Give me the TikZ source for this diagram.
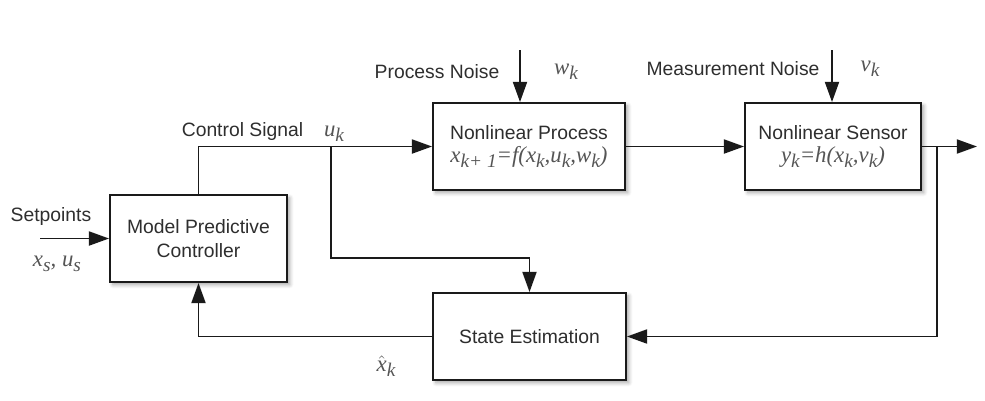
\documentclass[tikz,border=0pt]{standalone}
\usepackage{fontspec}
\setmainfont{Liberation Sans}
\newfontfamily\mfont{Liberation Serif}
\usetikzlibrary{arrows.meta,shadows.blur}
\definecolor{ln}{HTML}{1A1A1A}
\definecolor{tx}{HTML}{2E2E2E}
\definecolor{fm}{HTML}{555555}
\newcommand{\mv}[2]{#1\raisebox{-0.5ex}{\fontsize{11}{11}\selectfont #2}}
\newcommand{\mth}[1]{{\mfont\itshape\color{fm}\fontsize{13}{14}\selectfont #1}}
\begin{document}
\begin{tikzpicture}[x=0.02cm,y=-0.02cm,
  font=\fontsize{11}{13.2}\selectfont,
  box/.style={draw=ln,line width=1.1pt,fill=white,text=tx,align=center,
    minimum height=1.74cm,inner sep=0pt,
    blur shadow={shadow blur steps=6,shadow xshift=1.6pt,shadow yshift=-1.6pt,shadow opacity=35}},
  arr/.style={draw=ln,line width=1.1pt,-{Triangle[length=11.5pt,width=8pt]}},
  lbl/.style={text=tx,inner sep=0pt},
  mlbl/.style={inner sep=0pt}]
\useasboundingbox (0,0) rectangle (985,400);

\node[box,minimum width=3.54cm] (mpc) at (198.5,238.5) {Model Predictive\\Controller};
\node[box,minimum width=3.84cm] (proc) at (529,146.5) {Nonlinear Process\\[0pt]\mth{\mv{x}{k+ 1}=f(\mv{x}{k},\mv{u}{k},\mv{w}{k})}};
\node[box,minimum width=3.52cm] (sens) at (833,146.5) {Nonlinear Sensor\\[0pt]\mth{\mv{y}{k}=h(\mv{x}{k},\mv{v}{k})}};
\node[box,minimum width=3.86cm] (est) at (529.5,336.5) {State Estimation};

\coordinate (sp) at (40,238.5);
\coordinate (br) at (331,146.5);
\coordinate (bk) at (331,258);
\coordinate (br2) at (937,146.5);
\coordinate (out) at (977,146.5);
\coordinate (pn) at (520,50);
\coordinate (mn) at (832,50);

\draw[arr] (sp) -- (mpc.west);
\draw[arr] (mpc.north) |- (proc.west);
\draw[arr] (br) -- (bk) -| (est.north);
\draw[arr] (proc.east) -- (sens.west);
\draw[arr] (sens.east) -- (out);
\draw[arr] (br2) |- (est.east);
\draw[arr] (est.west) -| (mpc.south);
\draw[arr] (pn) -- (pn |- proc.north);
\draw[arr] (mn) -- (mn |- sens.north);

\node[lbl] (tsp) at (51,216) {Setpoints};
\node[mlbl] (txs) at (57,264) {\mth{\mv{x}{s}, \mv{u}{s}}};
\node[lbl] (tcs) at (242.5,131) {Control Signal};
\node[mlbl] (tuk) at (334,134) {\mth{\mv{u}{k}}};
\node[lbl] (tpn) at (437,72) {Process Noise};
\node[mlbl] (twk) at (566,72) {\mth{\mv{w}{k}}};
\node[lbl] (tmn) at (733,69) {Measurement Noise};
\node[mlbl] (tvk) at (870,69) {\mth{\mv{v}{k}}};
\node[mlbl] (txh) at (386,366) {\mth{\mv{$\hat{\mbox{\mfont\itshape x}}$}{k}}};
\end{tikzpicture}
\end{document}
